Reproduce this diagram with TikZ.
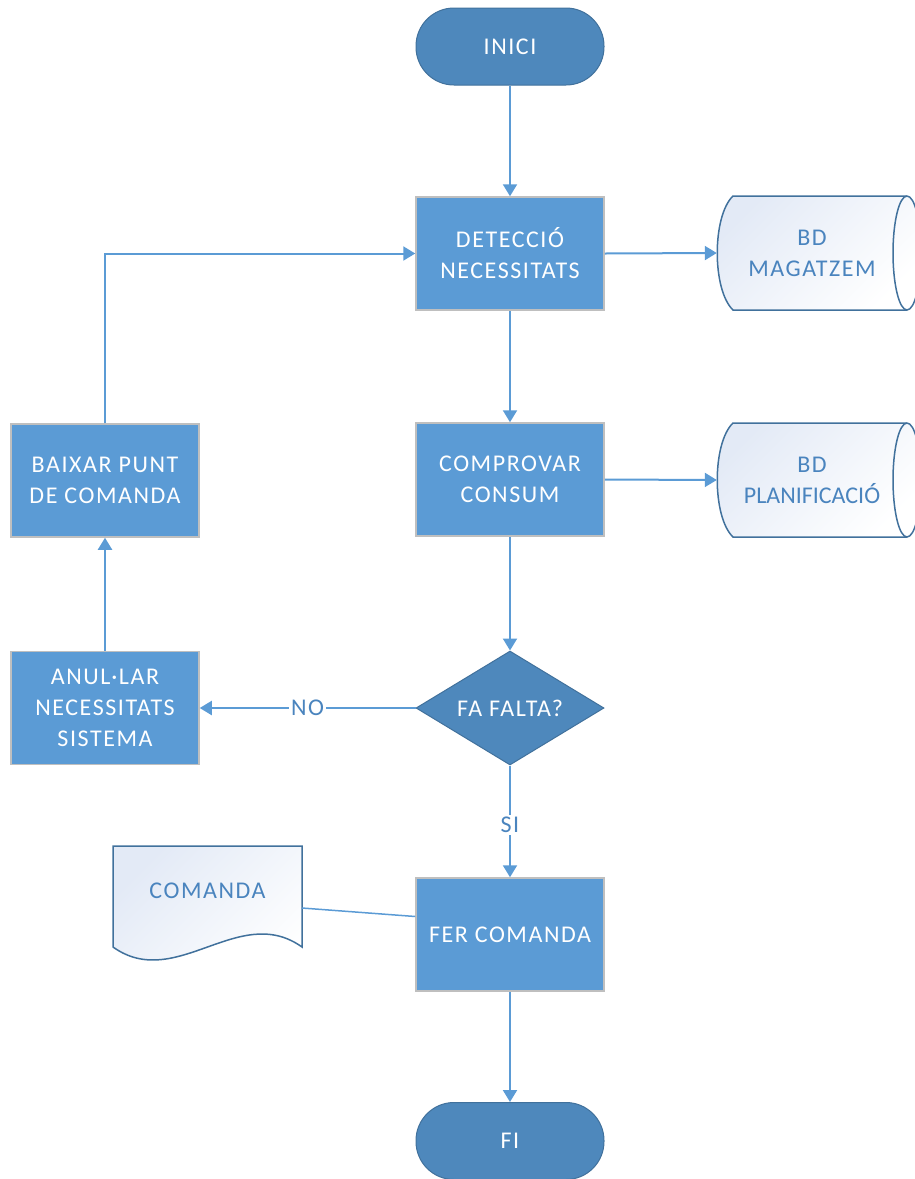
\documentclass[tikz,border=0pt]{standalone}
\usepackage{fontspec}
\setmainfont{Carlito}[LetterSpace=6.5]
\usetikzlibrary{shapes.geometric,arrows.meta,calc}
\definecolor{procfill}{HTML}{5B9BD5}
\definecolor{procedge}{HTML}{BFBFBF}
\definecolor{termfill}{HTML}{4E88BC}
\definecolor{termedge}{HTML}{41719C}
\definecolor{flow}{HTML}{5B9BD5}
\definecolor{inktext}{HTML}{4A84BE}
\definecolor{paleblue}{HTML}{E3EAF6}
\tikzset{
  base/.style={font=\fontsize{24}{31}\selectfont, align=center, text=white, inner sep=0pt},
  procbox/.style={base, rectangle, fill=procfill, draw=procedge, line width=1.5pt,
                  minimum width=188pt, minimum height=113pt},
  term/.style={base, rectangle, rounded corners=38pt, fill=termfill, draw=termedge,
               line width=1pt, minimum width=188pt, minimum height=77pt},
  decision/.style={base, diamond, shape aspect=1.65, fill=termfill, draw=termedge, line width=1pt,
                   minimum width=188pt, minimum height=114pt},
  storetext/.style={base, text=inktext, minimum width=190pt, minimum height=114pt},
  outline/.style={draw=termedge, line width=1.5pt, top color=paleblue, bottom color=white,
                  shading angle=45},
  flowline/.style={draw=flow, line width=2pt},
  flowarrow/.style={flowline, -{Triangle[length=12pt,width=14pt]}},
  edgelabel/.style={fill=white, text=inktext, font=\fontsize{24}{31}\selectfont, inner sep=2pt}
}
\begin{document}
\begin{tikzpicture}[x=1pt,y=-1pt]
\useasboundingbox (0,0) rectangle (915,1179);
\begin{scope}
\clip (0,0) rectangle (915,1179);
% stored data: BD MAGATZEM
\path[outline] (733,196) -- (907,196) arc[start angle=90, end angle=-90, x radius=14pt, y radius=57pt]
  -- (733,310) .. controls (712,290) and (712,216) .. (733,196) -- cycle;
\draw[draw=termedge, line width=1.5pt] (907,196) arc[start angle=90, end angle=270, x radius=14pt, y radius=57pt];
% stored data: BD PLANIFICACIO
\path[outline] (733,423) -- (907,423) arc[start angle=90, end angle=-90, x radius=14pt, y radius=57pt]
  -- (733,537) .. controls (712,517) and (712,443) .. (733,423) -- cycle;
\draw[draw=termedge, line width=1.5pt] (907,423) arc[start angle=90, end angle=270, x radius=14pt, y radius=57pt];
\end{scope}
% document shape
\path[outline] (113,846) -- (302,846) -- (302,947) .. controls (239,902) and (176,992) .. (113,947) -- cycle;

% flowchart nodes
\node[term] (inici) at (510,46.5) {INICI};
\node[procbox] (detect) at (510,253.5) {DETECCIÓ\\NECESSITATS};
\node[procbox] (comprovar) at (510,479.5) {COMPROVAR\\CONSUM};
\node[decision] (falta) at (510,708) {FA FALTA?};
\node[procbox] (anular) at (105,708) {ANUL·LAR\\NECESSITATS\\SISTEMA};
\node[procbox] (baixar) at (105,480.5) {BAIXAR PUNT\\DE COMANDA};
\node[procbox] (fer) at (510,934.5) {FER COMANDA};
\node[term] (fi) at (510,1141) {FI};
\node[storetext] (bdm) at (812,253) {BD\\MAGATZEM};
\node[storetext] (bdp) at (812,480) {BD\\\addfontfeatures{LetterSpace=0}PLANIFICACIÓ};
\node[base, text=inktext] (doc) at (207.5,891) {COMANDA};
\coordinate (docport) at (302,908);

% connectors
\draw[flowarrow] (inici) -- (detect);
\draw[flowarrow] (detect) -- (comprovar);
\draw[flowarrow] (comprovar) -- (falta);
\draw[flowarrow] (detect.east) -- (bdm.west);
\draw[flowarrow] (comprovar.east) -- (bdp.west);
\draw[flowarrow] (falta.west) -- node[edgelabel] {NO} (anular.east);
\draw[flowarrow] (anular) -- (baixar);
\draw[flowarrow] (baixar.north) |- (detect.west);
\draw[flowarrow] (falta.south) -- node[edgelabel, pos=0.53] {SI} (fer.north);
\draw[flowarrow] (fer) -- (fi);
\draw[flowline, line width=1.5pt] (docport) -- ($(fer.west)+(0,-18)$);
\end{tikzpicture}
\end{document}
